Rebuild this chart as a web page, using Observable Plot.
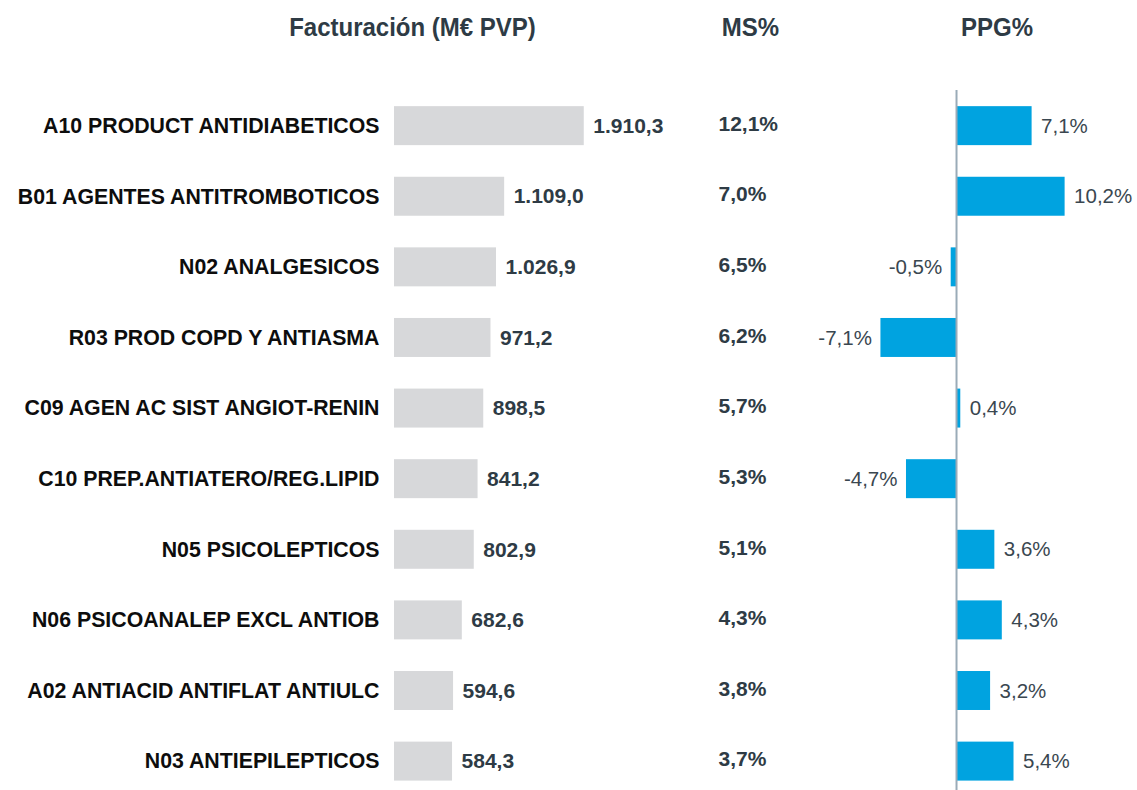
<!DOCTYPE html>
<html>
<head>
<meta charset="utf-8">
<script src="https://cdn.jsdelivr.net/npm/d3@7"></script>
<script src="https://cdn.jsdelivr.net/npm/@observablehq/plot@0.6"></script>
<style>
  body { margin: 0; background: #fff; font-family: "Liberation Sans", Arial, sans-serif; }
  #wrap { width: 1137px; height: 790px; position: relative; overflow: hidden; }
  #head { height: 60px; position: relative; }
  #head div { position: absolute; top: 15px; line-height: 1; font-weight: bold; font-size: 24px; color: #2e3b45; transform: translateX(-50%) scaleY(1.08); white-space: nowrap; }
  #plots { display: flex; }
  #plots svg { overflow: visible; }
</style>
</head>
<body>
<div id="wrap">
  <div id="head">
    <div style="left:412.5px">Facturación (M€ PVP)</div>
    <div style="left:750.5px">MS%</div>
    <div style="left:997px">PPG%</div>
  </div>
  <div id="plots"></div>
</div>
<script>
const categories = [
  "A10 PRODUCT ANTIDIABETICOS",
  "B01 AGENTES ANTITROMBOTICOS",
  "N02 ANALGESICOS",
  "R03 PROD COPD Y ANTIASMA",
  "C09 AGEN AC SIST ANGIOT-RENIN",
  "C10 PREP.ANTIATERO/REG.LIPID",
  "N05 PSICOLEPTICOS",
  "N06 PSICOANALEP EXCL ANTIOB",
  "A02 ANTIACID ANTIFLAT ANTIULC",
  "N03 ANTIEPILEPTICOS"
];
const facturacion = [1910.3, 1109.0, 1026.9, 971.2, 898.5, 841.2, 802.9, 682.6, 594.6, 584.3];
const ms = [12.1, 7.0, 6.5, 6.2, 5.7, 5.3, 5.1, 4.3, 3.8, 3.7];
const ppg = [7.1, 10.2, -0.5, -7.1, 0.4, -4.7, 3.6, 4.3, 3.2, 5.4];

const data = categories.map((c, i) => ({cat: c, fact: facturacion[i], ms: ms[i], ppg: ppg[i]}));

const loc = d3.formatLocale({decimal: ",", thousands: ".", grouping: [3], currency: ["", "€"], minus: "-"});
const fmtNum = loc.format(",.1f");
const fmtPct = v => loc.format(".1f")(v) + "%";

const yOpts = {domain: categories, paddingInner: 0.448, paddingOuter: 0.181, align: 0.632, round: false, axis: null};
const font = "'Liberation Sans', Arial, sans-serif";

const p1 = Plot.plot({
  width: 692, height: 730,
  marginLeft: 394, marginRight: 0, marginTop: 30, marginBottom: 0,
  style: {fontFamily: font, background: "transparent", overflow: "visible"},
  x: {domain: [0, 3000], axis: null},
  y: yOpts,
  marks: [
    Plot.barX(data, {x: "fact", y: "cat", fill: "#d7d8da"}),
    Plot.text(data, {x: 0, y: "cat", text: "cat", textAnchor: "end", dx: -15, fontWeight: "bold", fontSize: 21.3, fill: "#0d0d0d"}),
    Plot.text(data, {x: "fact", y: "cat", text: d => fmtNum(d.fact), textAnchor: "start", dx: 9, fontWeight: "bold", fontSize: 21, fill: "#2e3b45"})
  ]
});

const p2 = Plot.plot({
  width: 445, height: 730,
  marginLeft: 0, marginRight: 0, marginTop: 30, marginBottom: 0,
  style: {fontFamily: font, background: "transparent", overflow: "visible"},
  x: {domain: [-24.8, 17], axis: null},
  y: yOpts,
  marks: [
    Plot.text(data, {y: "cat", text: d => fmtPct(d.ms), frameAnchor: "left", textAnchor: "start", dx: 26, dy: -2, fontWeight: "bold", fontSize: 21, fill: "#2e3b45"}),
    Plot.barX(data, {x: "ppg", y: "cat", fill: "#00a3e0"}),
    Plot.ruleX([0], {stroke: "#9aabb8", strokeWidth: 2}),
    Plot.text(data.filter(d => d.ppg >= 0), {x: "ppg", y: "cat", text: d => fmtPct(d.ppg), textAnchor: "start", dx: 9, fontSize: 20.5, fill: "#3a4750"}),
    Plot.text(data.filter(d => d.ppg < 0), {x: "ppg", y: "cat", text: d => fmtPct(d.ppg), textAnchor: "end", dx: -9, fontSize: 20.5, fill: "#3a4750"})
  ]
});

document.getElementById("plots").append(p1, p2);
</script>
</body>
</html>
